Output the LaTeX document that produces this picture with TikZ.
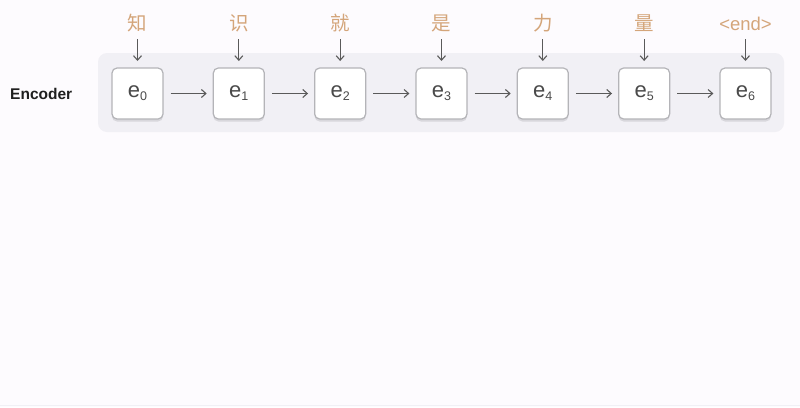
\documentclass[tikz,border=0pt]{standalone}
\usepackage{fontspec}
\setmainfont{Liberation Sans}
\newfontfamily\cjk{Noto Sans CJK SC}
\usetikzlibrary{arrows.meta}
\definecolor{bgc}{HTML}{FDFBFE}
\definecolor{panelc}{HTML}{F1F0F5}
\definecolor{boxline}{HTML}{B4B4B8}
\definecolor{shadowc}{HTML}{D8D7DC}
\definecolor{arrc}{HTML}{5A5A5A}
\definecolor{tanc}{HTML}{D4A57A}
\definecolor{txtc}{HTML}{4A4A4A}
\tikzset{
  cell/.style={draw=boxline, line width=1.2pt, fill=white, rounded corners=5pt,
    minimum width=51pt, minimum height=51pt, inner sep=0pt, text=txtc,
    font=\fontsize{22}{22}\selectfont},
  shade/.style={fill=shadowc, rounded corners=5pt, draw=none, minimum width=51pt, minimum height=51pt},
  conn/.style={draw=arrc, line width=1.1pt, -{Straight Barb[length=4.5pt,width=8pt,line width=1.1pt]}},
  tok/.style={text=tanc, inner sep=0pt, font=\fontsize{19.5}{20}\selectfont\cjk},
  endtok/.style={text=tanc, inner sep=0pt, font=\fontsize{18.5}{19}\selectfont}
}
\newcommand{\esub}[1]{e\raisebox{-3pt}{\fontsize{12.5}{13}\selectfont #1}}
\begin{document}
\begin{tikzpicture}[x=1pt,y=-1pt]
\useasboundingbox (0,0) rectangle (800,407);
\fill[bgc] (0,0) rectangle (800,407);
\draw[draw=panelc, line width=1pt] (0,405.5) -- (800,405.5);
\fill[panelc, rounded corners=9pt] (98,53) rectangle (784,132);
\node[font=\fontsize{15.5}{16}\selectfont\bfseries, text=black!88, anchor=west, inner sep=0pt] (enc) at (10,93.5) {Encoder};
\foreach \i/\t in {0/知,1/识,2/就,3/是,4/力,5/量}{
  \node[shade] at ({137.5+101.33*\i},96) {};
  \node[cell] (e\i) at ({137.5+101.33*\i},93.5) {\esub{\i}};
  \node[tok] (t\i) at ({137.5+101.33*\i},23.5) {\t};
  \coordinate (s\i) at ({137.5+101.33*\i},39);
  \draw[conn] (s\i) -- (e\i.north |- 0,61);
}
\node[shade] at ({137.5+101.33*6},96) {};
\node[cell] (e6) at ({137.5+101.33*6},93.5) {\esub{6}};
\node[endtok] (t6) at ({137.5+101.33*6},24) {<end>};
\coordinate (s6) at ({137.5+101.33*6},39);
\draw[conn] (s6) -- (e6.north |- 0,61);
\foreach \a/\b in {0/1,1/2,2/3,3/4,4/5,5/6}{
  \draw[conn] ([xshift=7pt]e\a.east) -- ([xshift=-6pt]e\b.west);
}
\end{tikzpicture}
\end{document}
